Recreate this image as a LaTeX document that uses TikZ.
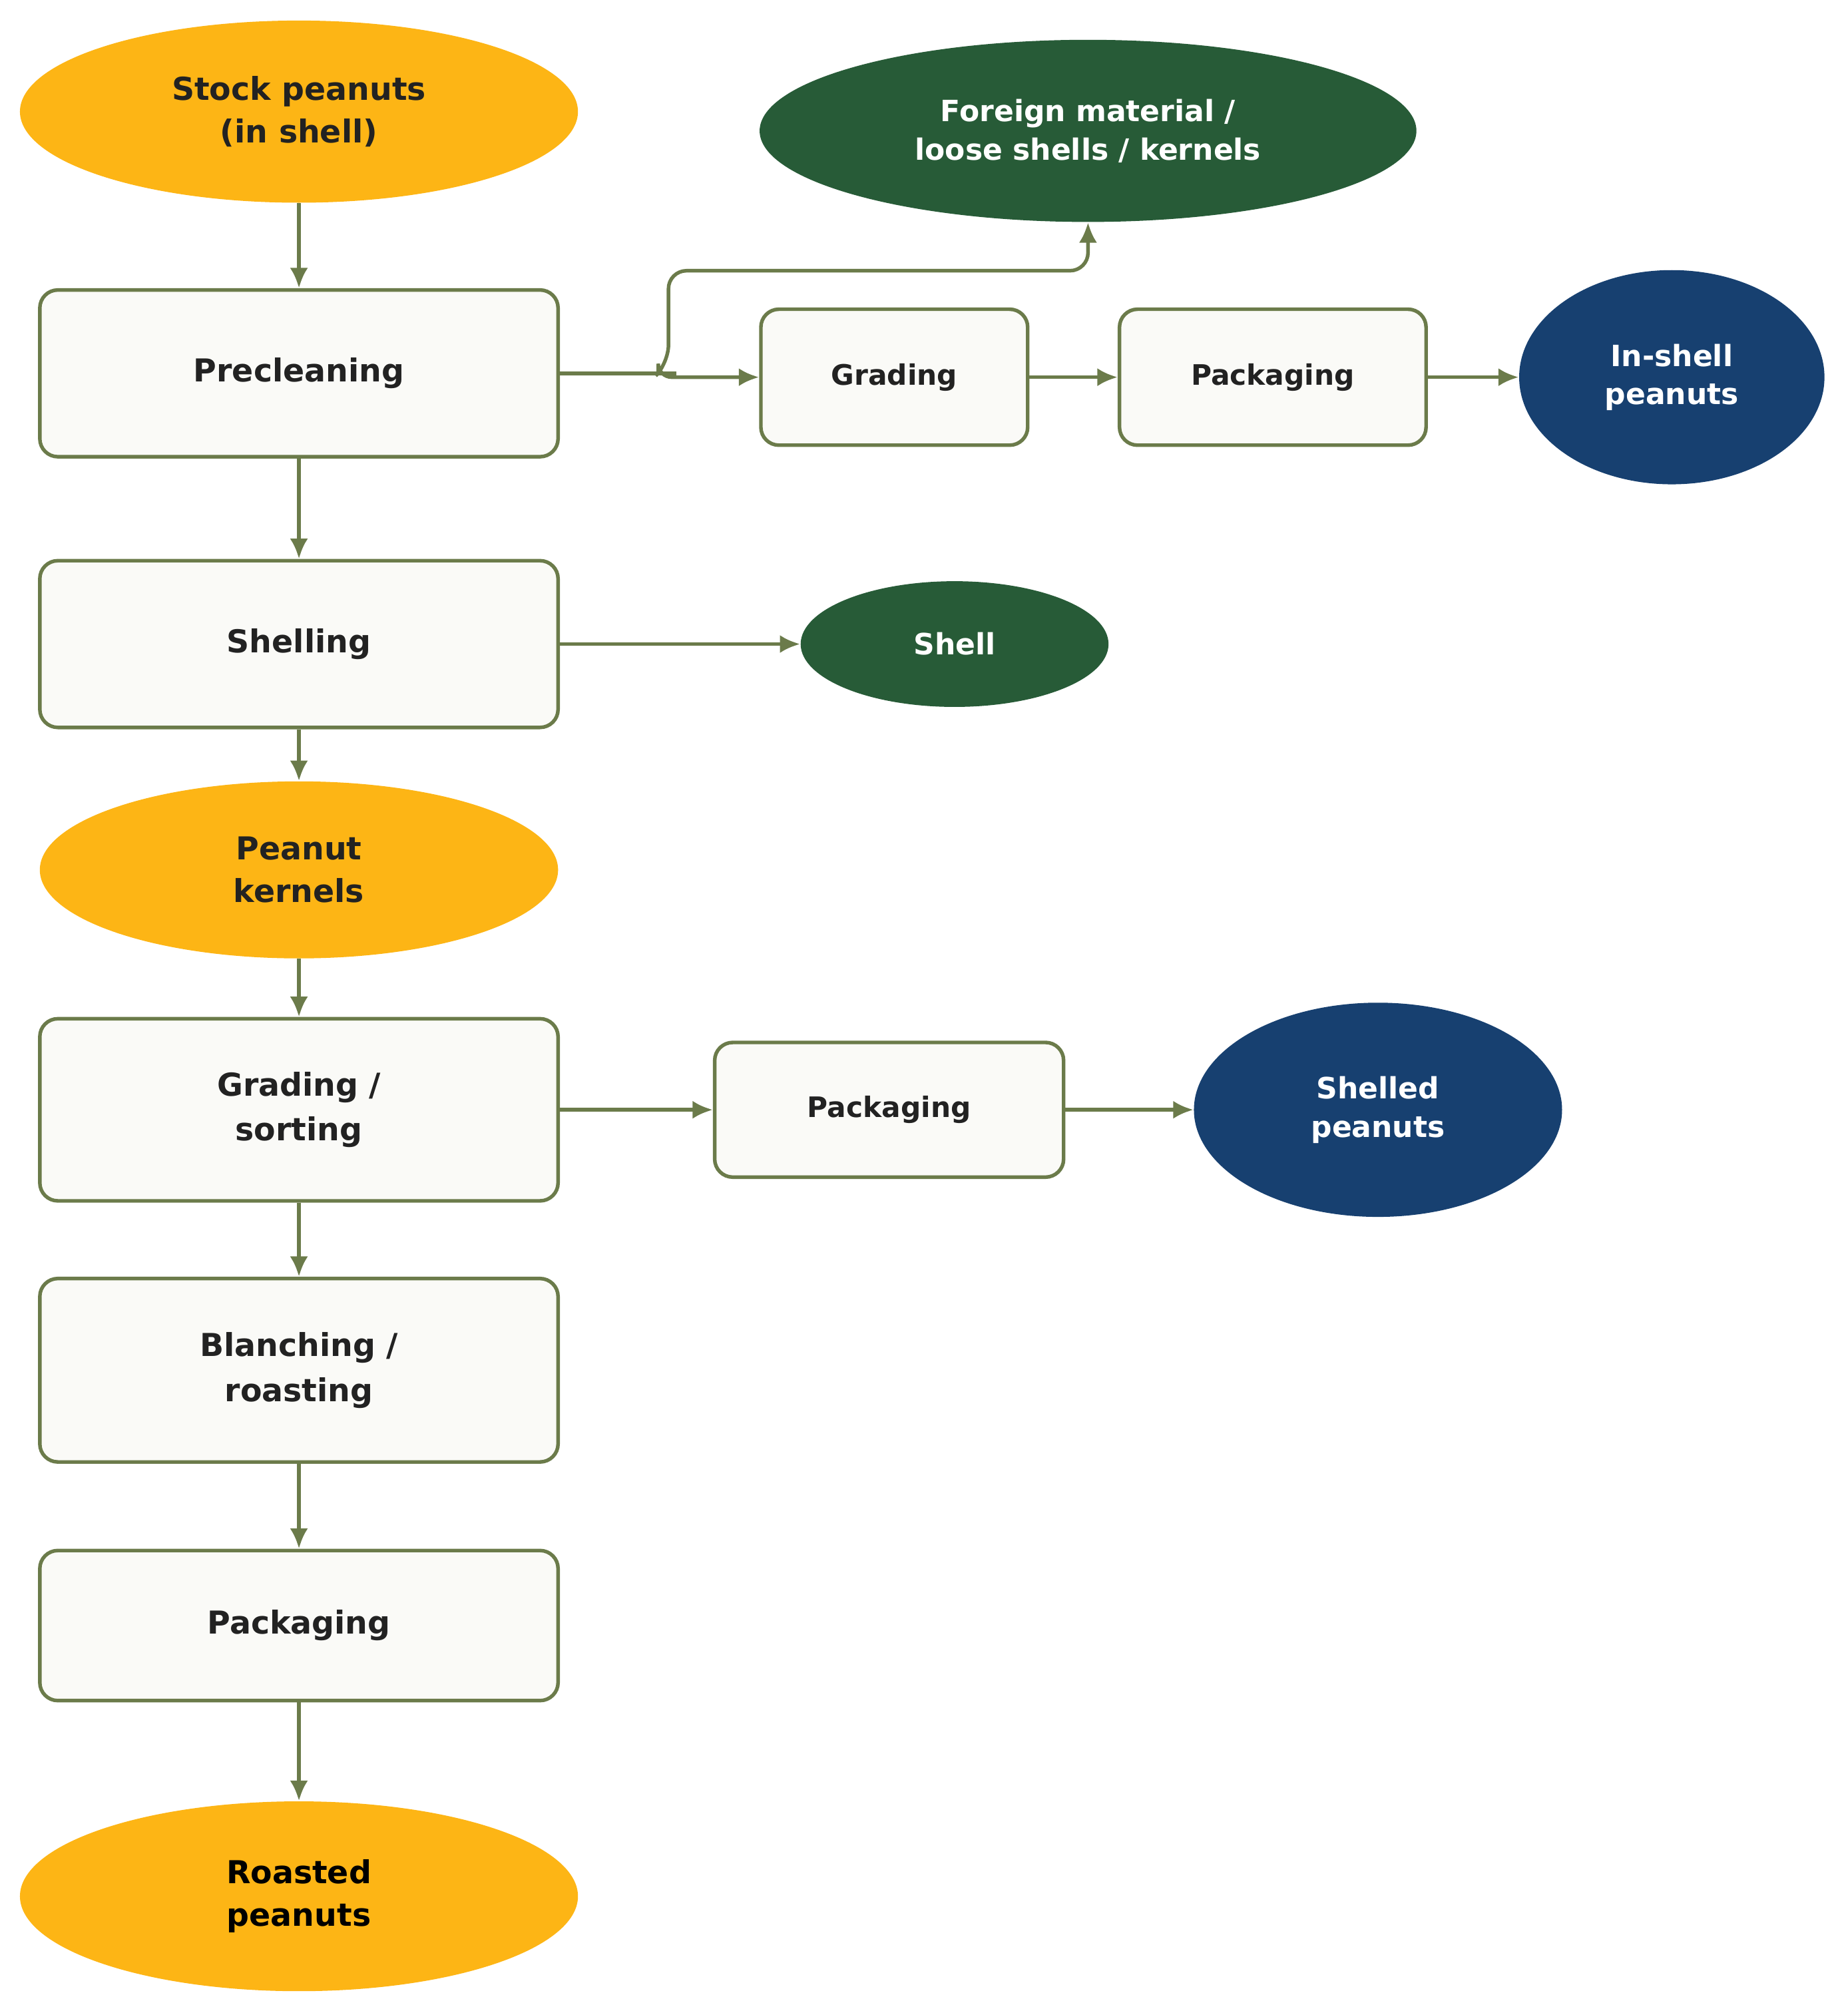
\documentclass[tikz,border=0pt]{standalone}
\usepackage{fontspec}
\setmainfont{DejaVu Sans}
\usetikzlibrary{shapes.geometric,arrows.meta}
\definecolor{peanut_orange}{HTML}{FDB515}
\definecolor{waste_green}{HTML}{275B37}
\definecolor{product_blue}{HTML}{174070}
\definecolor{line_olive}{HTML}{6B7B4A}
\definecolor{box_fill}{HTML}{FAFAF7}
\definecolor{text_dark}{HTML}{222222}

\tikzset{
  stepbox/.style={draw=line_olive, line width=1.6pt, fill=box_fill, rounded corners=8pt,
    text=text_dark, align=center, font=\bfseries\fontsize{14}{20}\selectfont},
  smallbox/.style={stepbox, font=\bfseries\fontsize{12.5}{18}\selectfont},
  rawblob/.style={ellipse, fill=peanut_orange, text=text_dark, align=center, inner sep=0pt,
    font=\bfseries\fontsize{14}{19}\selectfont},
  wasteblob/.style={ellipse, fill=waste_green, text=white, align=center, inner sep=0pt,
    font=\bfseries\fontsize{13}{17}\selectfont},
  productblob/.style={ellipse, fill=product_blue, text=white, align=center, inner sep=0pt,
    font=\bfseries\fontsize{13}{17}\selectfont},
  flow/.style={draw=line_olive, line width=1.6pt, -{Latex[length=9pt,width=8pt]}}
}

\begin{document}
\begin{tikzpicture}[x=0.02cm, y=-0.02cm]
  \useasboundingbox (0,0) rectangle (1440,1569);

  % main column
  \node[rawblob, minimum width=8.7cm, minimum height=2.84cm] (stock) at (233,87) {Stock peanuts\\(in shell)};
  \node[stepbox, minimum width=8.08cm, minimum height=2.6cm] (preclean) at (233,291) {Precleaning};
  \node[stepbox, minimum width=8.08cm, minimum height=2.6cm] (shelling) at (233,502) {Shelling};
  \node[rawblob, minimum width=8.08cm, minimum height=2.76cm] (kernels) at (233,678) {Peanut\\kernels};
  \node[stepbox, minimum width=8.08cm, minimum height=2.84cm] (sorting) at (233,865) {Grading /\\sorting};
  \node[stepbox, minimum width=8.08cm, minimum height=2.86cm] (blanch) at (233,1068) {Blanching /\\roasting};
  \node[stepbox, minimum width=8.08cm, minimum height=2.34cm] (pack) at (233,1267) {Packaging};
  \node[rawblob, minimum width=8.7cm, minimum height=2.96cm, text=black] (roasted) at (233,1478) {Roasted\\peanuts};

  % side branches
  \node[wasteblob, minimum width=10.24cm, minimum height=2.84cm] (foreign) at (848,102) {Foreign material /\\loose shells / kernels};
  \node[smallbox, minimum width=4.16cm, minimum height=2.12cm] (grading) at (697,294) {Grading};
  \node[smallbox, minimum width=4.78cm, minimum height=2.12cm] (packin) at (992,294) {Packaging};
  \node[productblob, minimum width=4.76cm, minimum height=3.34cm] (inshell) at (1303,294) {In-shell\\peanuts};
  \node[wasteblob, minimum width=4.8cm, minimum height=1.96cm] (shell) at (744,502) {Shell};
  \node[smallbox, minimum width=5.44cm, minimum height=2.1cm] (packsh) at (693,865) {Packaging};
  \node[productblob, minimum width=5.74cm, minimum height=3.34cm] (shelled) at (1074,865) {Shelled\\peanuts};

  \coordinate (split) at (513,291);

  \draw[flow] (stock) -- (preclean);
  \draw[flow] (preclean) -- (shelling);
  \draw[flow] (shelling) -- (kernels);
  \draw[flow] (kernels) -- (sorting);
  \draw[flow] (sorting) -- (blanch);
  \draw[flow] (blanch) -- (pack);
  \draw[flow] (pack) -- (roasted);

  \draw[line_olive, line width=1.6pt, rounded corners=8pt] (preclean.east) -- (split) -- (521,291);
  \draw[flow, rounded corners=8pt] (split) -- (521,283) -- (521,211) -- (848,211) -- (foreign.south);
  \draw[flow, rounded corners=6pt] (split) -- (513,294) -- (grading.west);
  \draw[flow] (grading) -- (packin);
  \draw[flow] (packin) -- (inshell);
  \draw[flow] (shelling) -- (shell);
  \draw[flow] (sorting) -- (packsh);
  \draw[flow] (packsh) -- (shelled);
\end{tikzpicture}
\end{document}
